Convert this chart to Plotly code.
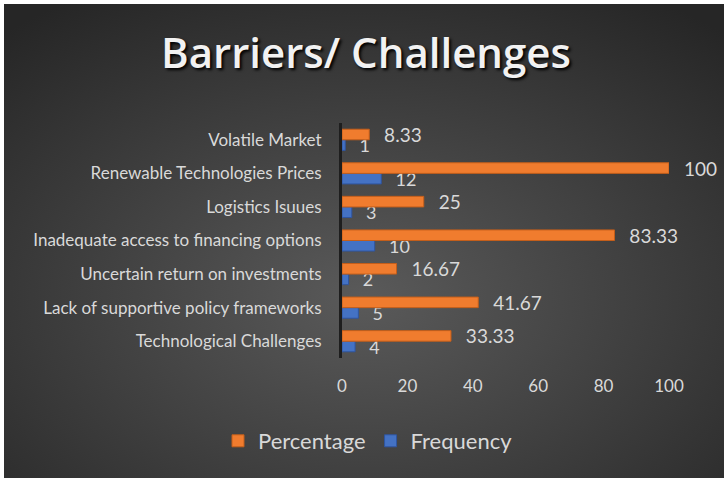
import base64
import plotly.graph_objects as go

categories = [
    "Technological Challenges",
    "Lack of supportive policy frameworks",
    "Uncertain return on investments",
    "Inadequate access to financing options",
    "Logistics Isuues",
    "Renewable Technologies Prices",
    "Volatile Market",
]
percentage = [33.33, 41.67, 16.67, 83.33, 25, 100, 8.33]
frequency = [4, 5, 2, 10, 3, 12, 1]
x_ticks = [0, 20, 40, 60, 80, 100]

W, H = 726, 478
L, R, T, B = 342, 57, 123, 120
pw, ph = W - L - R, H - T - B

svg = (
    '<svg xmlns="http://www.w3.org/2000/svg" width="720" height="474">'
    '<defs><radialGradient id="g" cx="50%" cy="62%" r="75%">'
    '<stop offset="0" stop-color="#5a5a5a"/>'
    '<stop offset="1" stop-color="#262626"/>'
    '</radialGradient></defs>'
    '<rect width="720" height="474" fill="url(#g)"/></svg>'
)
src = "data:image/svg+xml;base64," + base64.b64encode(svg.encode()).decode()

FONT = "Lato"
PAD = "\u2002\u2009"
fig = go.Figure()
fig.add_trace(go.Bar(
    y=categories, x=frequency, orientation="h", name="Frequency",
    marker=dict(color="#4472C4", line=dict(color="#2f55a0", width=1)),
    text=[PAD + str(v) for v in frequency], textposition="outside",
    constraintext="none",
    textfont=dict(family=FONT, size=18, color="#d9d9d9"), cliponaxis=False,
    legendrank=2,
))
fig.add_trace(go.Bar(
    y=categories, x=percentage, orientation="h", name="Percentage",
    marker=dict(color="#F07C2E", line=dict(color="#c45e1a", width=1)),
    text=[PAD + ("%g" % v) for v in percentage], textposition="outside",
    constraintext="none",
    textfont=dict(family=FONT, size=19, color="#d9d9d9"), cliponaxis=False,
    legendrank=1,
))

fig.update_layout(
    width=W, height=H,
    margin=dict(l=L, r=R, t=T, b=B, autoexpand=False),
    paper_bgcolor="white", plot_bgcolor="rgba(0,0,0,0)",
    barmode="group", bargap=0.37, bargroupgap=0,
    font=dict(family=FONT, color="#d9d9d9"),
    showlegend=True,
    legend=dict(orientation="h", x=(368 - L) / pw, xanchor="center",
                y=(H - B - 441) / ph, yanchor="middle",
                font=dict(family=FONT, size=22, color="#d9d9d9"),
                bgcolor="rgba(0,0,0,0)", itemwidth=30),
    xaxis=dict(range=[0, 100], tickvals=x_ticks, showgrid=False, zeroline=False,
               showline=False, tickfont=dict(family=FONT, size=17, color="#d9d9d9"),
               ticks="", ticklabelstandoff=16),
    yaxis=dict(showgrid=False, zeroline=False, showline=True, linecolor="#1e1e1e",
               linewidth=3, ticks="", tickfont=dict(family=FONT, size=17, color="#d9d9d9"),
               ticklabelstandoff=14),
    images=[dict(source=src, xref="paper", yref="paper",
                 x=(4 - L) / pw, y=(H - B - 4) / ph,
                 sizex=720 / pw, sizey=474 / ph,
                 sizing="stretch", layer="below", xanchor="left", yanchor="top")],
    annotations=[
        dict(text="Barriers/ Challenges", xref="paper", yref="paper",
             x=(366 - L) / pw, y=(H - B - 52) / ph, xanchor="center", yanchor="middle",
             showarrow=False,
             font=dict(family="Open Sans", size=42, weight=600, color="#f2f2f2",
                       shadow="2px 2px 3px #000000")),
    ],
)

fig.write_html("out.html", config={"displayModeBar": False},
               post_script="document.body.style.margin='0';")
